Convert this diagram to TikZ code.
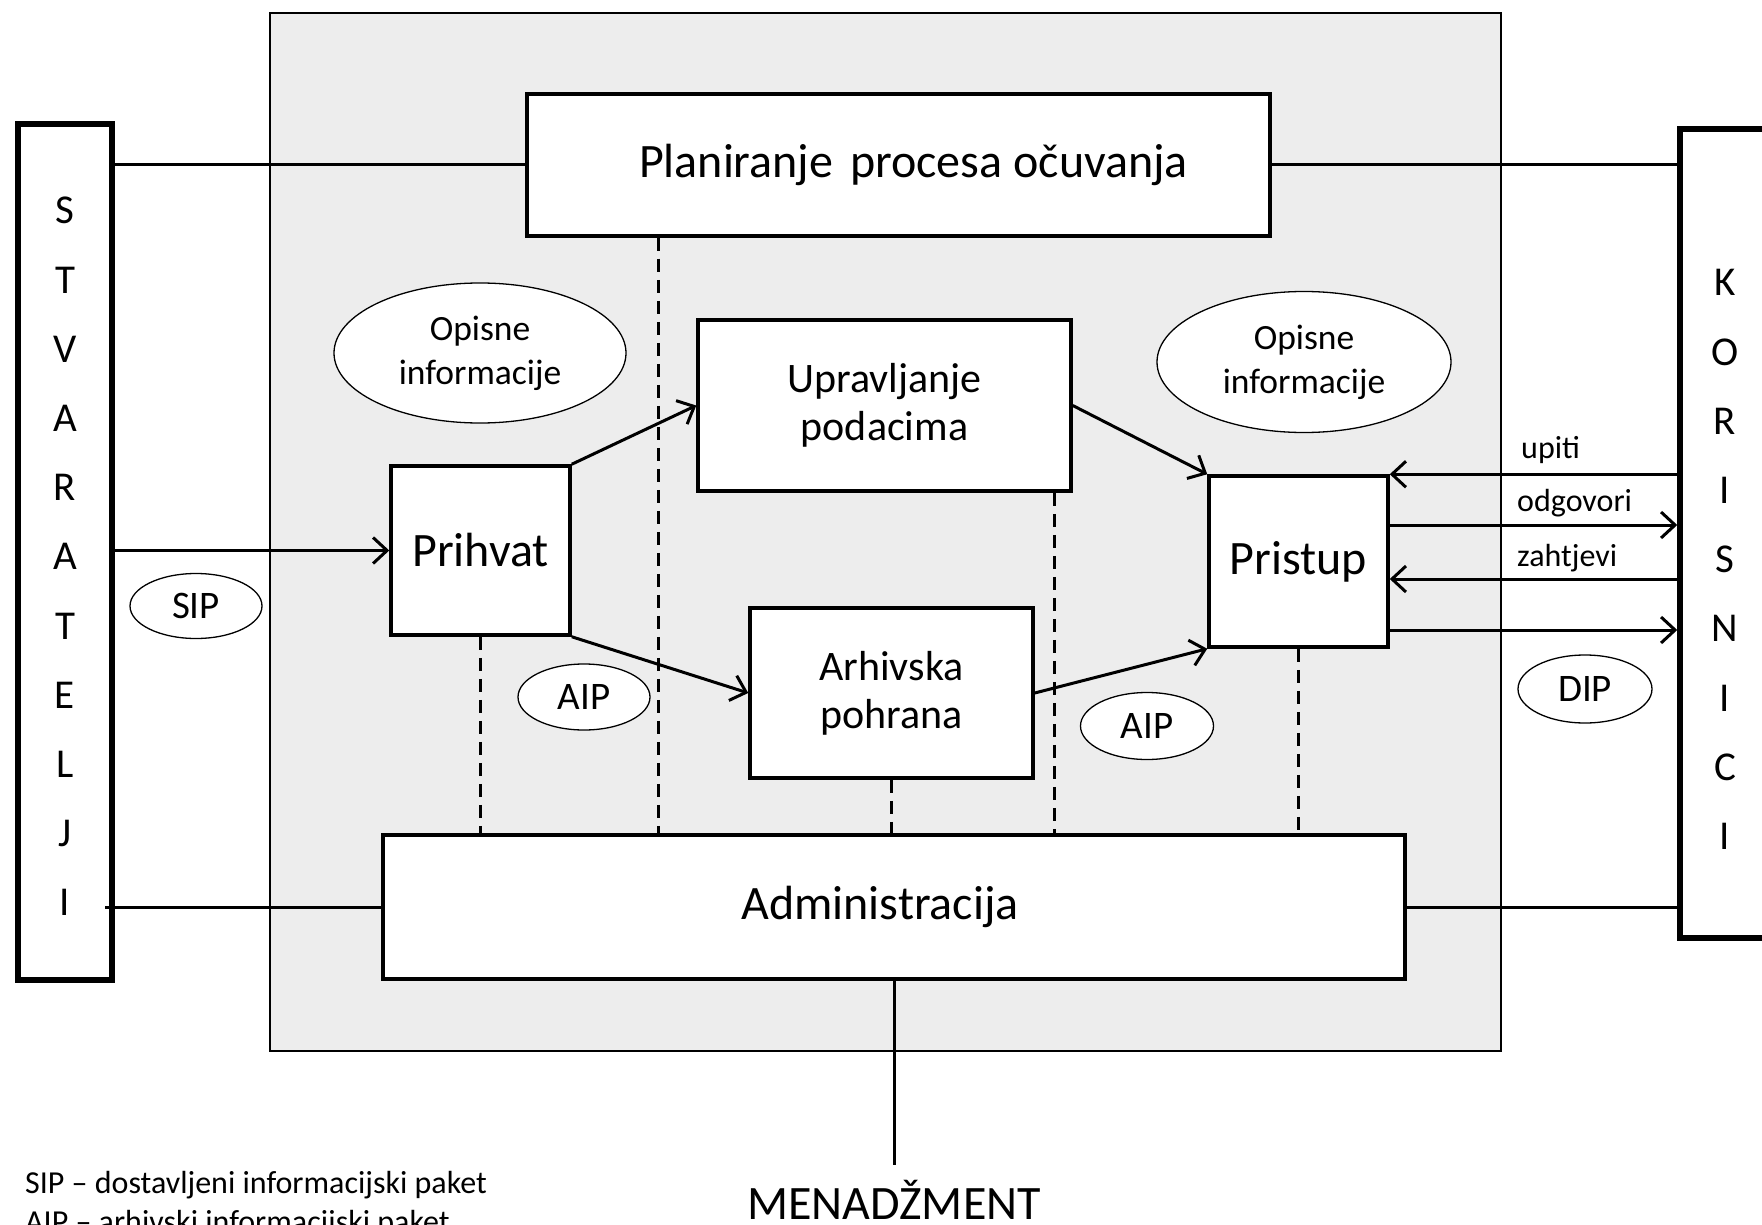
\documentclass[tikz,border=0pt]{standalone}
\usepackage{fontspec}
\setmainfont{Carlito}
\usetikzlibrary{shapes.geometric,arrows.meta}
\begin{document}
\begin{tikzpicture}[x=1pt,y=-1pt,
  box/.style={draw, line width=3.5pt, fill=white, inner sep=0pt, align=center},
  actor/.style={draw, line width=5.5pt, fill=white, inner sep=0pt},
  oval/.style={ellipse, draw, line width=1.3pt, fill=white, inner sep=0pt, align=center},
  conn/.style={line width=3pt},
  arr/.style={line width=3pt, -{Straight Barb[length=14pt,width=26pt,line width=3pt]}},
  dsh/.style={line width=2.8pt, dash pattern=on 13pt off 8pt},
  fbig/.style={font=\fontsize{48}{56}\selectfont},
  fmid/.style={font=\fontsize{42}{48}\selectfont},
  fopis/.style={font=\fontsize{35.5}{44}\selectfont},
  foval/.style={font=\fontsize{39}{44}\selectfont},
  flab/.style={font=\fontsize{32}{38}\selectfont, inner sep=0pt},
  fleg/.style={font=\fontsize{32}{38}\selectfont, inner sep=0pt},
  fvert/.style={font=\fontsize{41}{69.2}\selectfont, inner sep=0pt, align=center}
]
\useasboundingbox (0,0) rectangle (1762,1225);
\clip (0,0) rectangle (1762,1225);
\fill[white] (0,0) rectangle (1762,1225);

% grey panel
\node[draw, fill=black!7, line width=1.5pt, minimum width=1231pt, minimum height=1038pt, inner sep=0pt] (panel) at (885.5,532) {};

% actors
\node[actor, minimum width=94pt, minimum height=856pt] (stv) at (65,552) {};
\node[actor, minimum width=94pt, minimum height=809pt] (kor) at (1727,533.5) {};
\node[fvert] (stvtext) at (65,556.5) {S\\T\\V\\A\\R\\A\\T\\E\\L\\J\\I};
\node[fvert] (kortext) at (1725,559.5) {K\\O\\R\\I\\S\\N\\I\\C\\I};

% boxes
\node[box, fbig, minimum width=743pt, minimum height=142pt] (plan) at (898.5,165) {\hspace*{30pt}Planiranje\hspace{6pt} procesa očuvanja};
\node[box, fmid, minimum width=373pt, minimum height=171pt] (upr) at (884.5,405.5) {Upravljanje\\podacima};
\node[box, fbig, minimum width=179pt, minimum height=169pt] (prih) at (480.5,550.5) {Prihvat};
\node[box, fmid, minimum width=283pt, minimum height=170pt] (arh) at (891.5,693) {Arhivska\\pohrana};
\node[box, fbig, minimum width=179pt, minimum height=171pt] (pris) at (1298.5,561.5) {Pristup};
\node[box, fbig, minimum width=1022pt, minimum height=144pt] (adm) at (894,907) {Administracija\hspace*{28pt}};

% ellipses
\node[oval, fopis, minimum width=292pt, minimum height=140pt] (op1) at (480,353) {Opisne\\informacije};
\node[oval, fopis, minimum width=294pt, minimum height=141pt] (op2) at (1304,362) {Opisne\\informacije};
\node[oval, foval, minimum width=132pt, minimum height=65pt] (sip) at (196,606) {SIP};
\node[oval, foval, minimum width=132pt, minimum height=66pt] (aip1) at (584,697) {AIP};
\node[oval, foval, minimum width=133pt, minimum height=67pt] (aip2) at (1147,726) {AIP};
\node[oval, foval, minimum width=134pt, minimum height=68pt] (dip) at (1585,689) {DIP};

% solid connectors to actors
\draw[conn] (plan.west) -- (stv.east |- plan.west);
\draw[conn] (plan.east) -- (kor.west |- plan.east);
\draw[conn] (adm.west) -- ([xshift=-10pt]stv.east |- adm.west);
\draw[conn] (adm.east) -- (kor.west |- adm.east);
\draw[arr] (stv.east |- prih.west) -- (prih.west);

% internal arrows
\draw[arr] (prih.north east) -- (upr.west);
\draw[arr] (prih.south east) -- (arh.west);
\draw[arr] (upr.east) -- (pris.north west);
\draw[arr] (arh.east) -- (pris.south west);

% pristup <-> korisnici
\draw[arr] (kor.west |- pris.north east) -- (pris.north east);
\draw[arr] ([yshift=36.5pt]pris.east) -- ([yshift=36.5pt]pris.east -| kor.west);
\draw[arr] ([yshift=-17.5pt]pris.east -| kor.west) -- ([yshift=-17.5pt]pris.east);
\draw[arr] ([yshift=-68.5pt]pris.east) -- ([yshift=-68.5pt]pris.east -| kor.west);
\node[flab, anchor=west] (lup) at (1521,450) {upiti};
\node[flab, anchor=west] (lodg) at (1517,503) {odgovori};
\node[flab, anchor=west] (lzah) at (1517,558) {zahtjevi};

% dashed links to administracija
\draw[dsh] ([xshift=133pt]plan.south west) -- ([xshift=133pt]plan.south west |- adm.north);
\draw[dsh] (prih.south) -- (prih.south |- adm.north);
\draw[dsh] ([xshift=-18pt]upr.south east) -- ([xshift=-18pt]upr.south east |- adm.north);
\draw[dsh] (arh.south) -- (arh.south |- adm.north);
\draw[dsh] (pris.south) -- (pris.south |- adm.north);

% menadzment
\node[fbig, anchor=base, inner sep=0pt] (men) at (894,1219) {MENADŽMENT};
\coordinate (mtop) at (894,1165);
\draw[conn] (adm.south) -- (mtop);

% legend
\node[fleg, anchor=base west] (leg1) at (25,1193) {SIP – dostavljeni informacijski paket};
\node[fleg, anchor=base west] (leg2) at (25,1232) {AIP – arhivski informacijski paket};
\end{tikzpicture}
\end{document}
